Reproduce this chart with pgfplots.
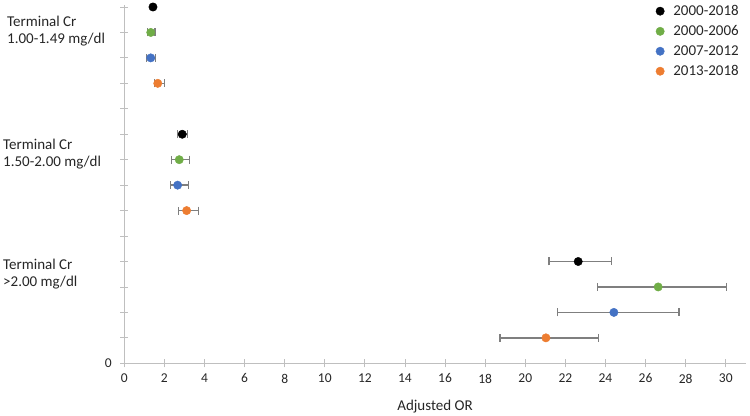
\documentclass[border=0pt]{standalone}
\usepackage{pgfplots}
\pgfplotsset{compat=1.18}
\usepackage{fontspec}
\setmainfont{Carlito}
\definecolor{cgreen}{HTML}{70AD47}
\definecolor{cblue}{HTML}{4472C4}
\definecolor{corange}{HTML}{ED7D31}
\definecolor{caxis}{HTML}{BFBFBF}
\definecolor{cerr}{HTML}{7F7F7F}
\definecolor{ctext}{HTML}{262626}
\begin{document}
\begin{tikzpicture}
\useasboundingbox (-124.3bp,-52.7bp) rectangle (625.7bp,363.3bp);
\begin{axis}[
  at={(0,0)}, anchor=south west,
  scale only axis, width=621.5bp, height=358.6bp,
  xmin=0, xmax=31, ymin=0, ymax=14.09,
  axis lines*=left,
  axis line style={caxis, line width=0.8bp},
  xtick={0,2,...,30}, ytick={0,1,...,14},
  yticklabels={0},
  major tick length=8bp, tick align=center,
  tick style={caxis, line width=0.8bp},
  /pgf/number format/assume math mode=true,
  ticklabel style={font=\fontsize{13.5bp}{15bp}\selectfont, text=ctext},
  xticklabel style={yshift=-3bp},
  yticklabel style={xshift=-5bp},
  xlabel={Adjusted OR},
  xlabel style={font=\fontsize{15bp}{17bp}\selectfont, text=ctext, yshift=-10.5bp},
  clip=false,
  legend style={at={(0.997,1.01)}, anchor=north east, draw=none, fill=none,
    font=\fontsize{15bp}{17bp}\selectfont, text=ctext, row sep=4.5bp,
    /tikz/every odd column/.append style={column sep=7bp}},
  legend cell align=left,
  every axis plot/.append style={only marks, mark=*, mark size=4.2bp,
    error bars/x dir=both, error bars/x explicit,
    error bars/error bar style={cerr, line width=1.5bp},
    error bars/error mark options={cerr, line width=1.3bp, mark size=4bp, rotate=90}},
]
\addplot[black, mark options={fill=black, draw=black}] coordinates {
  (1.43,14) += (0.07,0) -= (0.08,0)
  (2.89,9) += (0.27,0) -= (0.23,0)
  (22.64,4) += (1.67,0) -= (1.46,0)
};
\addlegendentry{2000-2018}
\addplot[cgreen, mark options={fill=cgreen, draw=cgreen}] coordinates {
  (1.32,13) += (0.21,0) -= (0.17,0)
  (2.74,8) += (0.50,0) -= (0.38,0)
  (26.63,3) += (3.41,0) -= (3.04,0)
};
\addlegendentry{2000-2006}
\addplot[cblue, mark options={fill=cblue, draw=cblue}] coordinates {
  (1.32,12) += (0.25,0) -= (0.20,0)
  (2.66,7) += (0.53,0) -= (0.35,0)
  (24.42,2) += (3.25,0) -= (2.80,0)
};
\addlegendentry{2007-2012}
\addplot[corange, mark options={fill=corange, draw=corange}] coordinates {
  (1.67,11) += (0.33,0) -= (0.17,0)
  (3.11,6) += (0.58,0) -= (0.40,0)
  (21.03,1) += (2.61,0) -= (2.29,0)
};
\addlegendentry{2013-2018}
\begin{scope}[every node/.style={anchor=west, align=left, text=ctext,
   font=\fontsize{15bp}{17bp}\selectfont, inner sep=0pt}]
\node at ([xshift=-117.3bp]axis cs:0,13.07) {Terminal Cr\\1.00-1.49 mg/dl};
\node at ([xshift=-121.3bp]axis cs:0,8.21) {Terminal Cr\\1.50-2.00 mg/dl};
\node at ([xshift=-121.3bp]axis cs:0,3.51) {Terminal Cr\\>2.00 mg/dl};
\end{scope}
\end{axis}
\end{tikzpicture}
\end{document}
